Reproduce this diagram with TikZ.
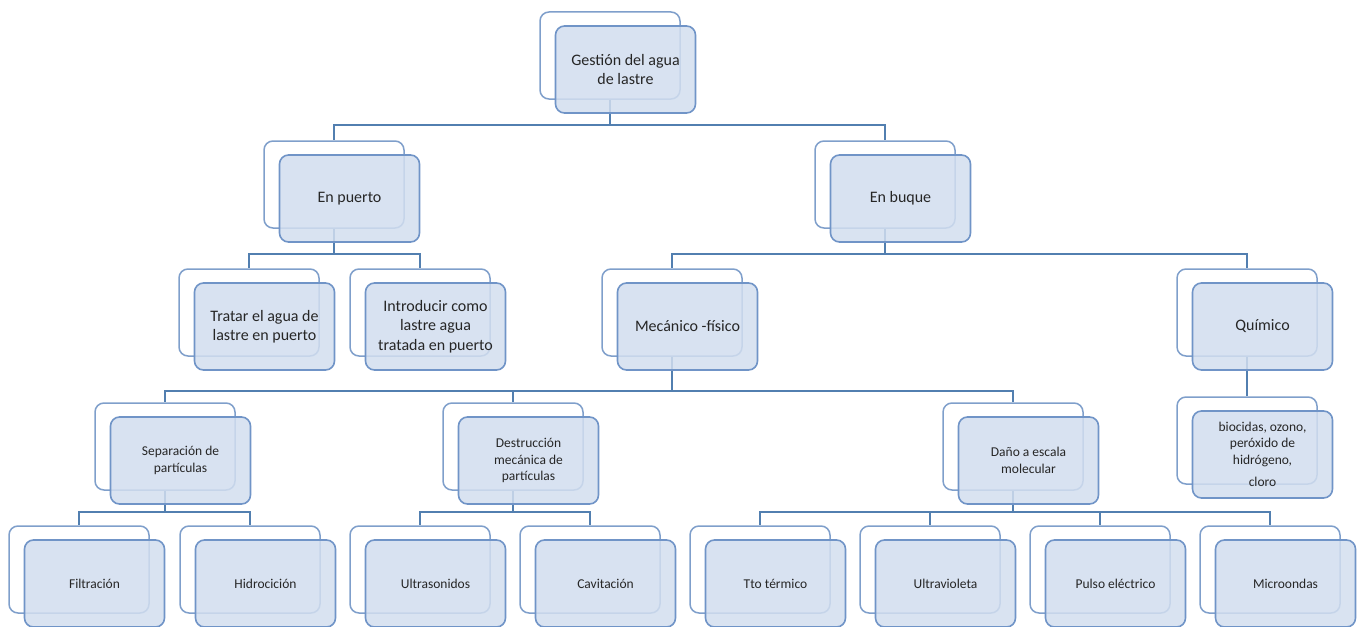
\documentclass[tikz,border=0pt]{standalone}
\usepackage{fontspec}
\setmainfont{Carlito}
\definecolor{bkline}{HTML}{7F9FCB}
\definecolor{frfill}{HTML}{D2DEEF}
\definecolor{frline}{HTML}{7094C7}
\definecolor{cnline}{HTML}{527FB0}
\definecolor{txt}{HTML}{262626}
\pgfdeclarelayer{bg}
\pgfdeclarelayer{mid}
\pgfsetlayers{bg,mid,main}
\newcommand\pairbox[5]{%
  \begin{pgfonlayer}{bg}
    \node[backbox] (#1B) at (#2+70,#3+43.5) {};
  \end{pgfonlayer}
  \node[frontbox,#4] (#1) at (#2+85.5,#3+57.5) {#5};
}
\begin{document}
\begin{tikzpicture}[x=1pt,y=-1pt,
  backbox/.style={draw=bkline,line width=1.5pt,fill=white,rounded corners=9pt,
    minimum width=140pt,minimum height=87pt,inner sep=0pt},
  frontbox/.style={draw=frline,line width=1.6pt,fill=frfill,fill opacity=0.85,
    text opacity=1,rounded corners=9pt,minimum width=140pt,minimum height=87pt,
    inner sep=0pt,align=center,text=txt},
  big/.style={font=\fontsize{16}{19.5}\selectfont},
  small/.style={font=\fontsize{13.5}{16.5}\selectfont},
  conn/.style={draw=cnline,line width=1.6pt}]
\useasboundingbox (0,0) rectangle (1359,626);

\pairbox{g}{540}{12}{big}{Gestión del agua\\de lastre}
\pairbox{p}{264}{141}{big}{En puerto}
\pairbox{b}{815}{141}{big}{En buque}
\pairbox{t}{179}{269}{big}{Tratar el agua de\\lastre en puerto}
\pairbox{i}{350}{269}{big}{Introducir como\\lastre agua\\tratada en puerto}
\pairbox{m}{602}{269}{big}{Mecánico -físico}
\pairbox{q}{1177}{269}{big}{Químico}
\pairbox{s}{95}{403}{small}{Separación de\\partículas}
\pairbox{d}{443}{403}{small}{Destrucción\\mecánica de\\partículas}
\pairbox{e}{943}{403}{small}{Daño a escala\\molecular}
\pairbox{o}{1177}{397}{small}{biocidas, ozono,\\peróxido de\\hidrógeno,\\[6pt]cloro}
\pairbox{fa}{9}{526}{small}{Filtración}
\pairbox{fb}{180}{526}{small}{Hidrocición}
\pairbox{fc}{350}{526}{small}{Ultrasonidos}
\pairbox{fd}{520}{526}{small}{Cavitación}
\pairbox{fe}{690}{526}{small}{Tto térmico}
\pairbox{ff}{860}{526}{small}{Ultravioleta}
\pairbox{fg}{1030}{526}{small}{Pulso eléctrico}
\pairbox{fh}{1200}{526}{small}{Microondas}

\coordinate (h1) at (0,125);
\coordinate (h2) at (0,254);
\coordinate (h3) at (0,391);
\coordinate (h4) at (0,512);

\begin{pgfonlayer}{mid}
\draw[conn] (gB.south) -- (gB.south |- h1) -| (pB.north);
\draw[conn] (gB.south |- h1) -| (bB.north);
\draw[conn] (pB.south) -- (pB.south |- h2) -| (tB.north);
\draw[conn] (pB.south |- h2) -| (iB.north);
\draw[conn] (bB.south) -- (bB.south |- h2) -| (mB.north);
\draw[conn] (bB.south |- h2) -| (qB.north);
\draw[conn] (mB.south) -- (mB.south |- h3) -| (sB.north);
\draw[conn] (mB.south |- h3) -| (dB.north);
\draw[conn] (mB.south |- h3) -| (eB.north);
\draw[conn] (qB.south) -- (oB.north);
\draw[conn] (sB.south) -- (sB.south |- h4) -| (faB.north);
\draw[conn] (sB.south |- h4) -| (fbB.north);
\draw[conn] (dB.south) -- (dB.south |- h4) -| (fcB.north);
\draw[conn] (dB.south |- h4) -| (fdB.north);
\draw[conn] (eB.south) -- (eB.south |- h4) -| (feB.north);
\draw[conn] (eB.south |- h4) -| (ffB.north);
\draw[conn] (eB.south |- h4) -| (fgB.north);
\draw[conn] (eB.south |- h4) -| (fhB.north);
\end{pgfonlayer}
\end{tikzpicture}
\end{document}
